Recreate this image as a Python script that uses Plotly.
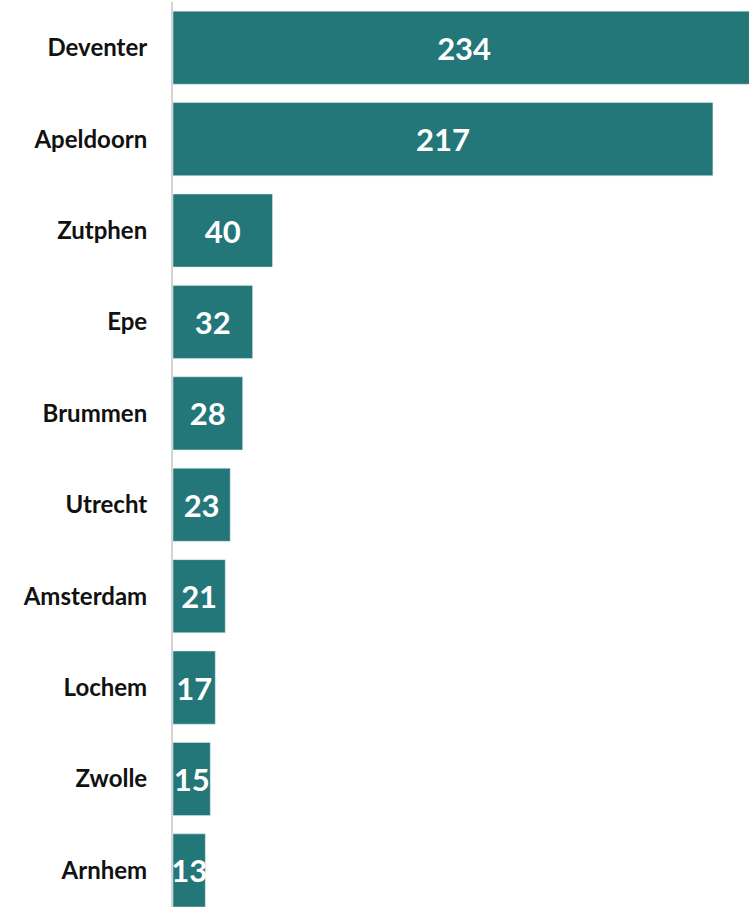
import plotly.graph_objects as go

cities = ["Deventer", "Apeldoorn", "Zutphen", "Epe", "Brummen",
          "Utrecht", "Amsterdam", "Lochem", "Zwolle", "Arnhem"]
counts = [234, 217, 40, 32, 28, 23, 21, 17, 15, 13]

bar_color = "#237779"

fig = go.Figure()
fig.add_trace(go.Bar(
    x=counts,
    y=cities,
    orientation="h",
    marker=dict(color=bar_color, line=dict(color="#E5ECF6", width=0.5)),
    text=[str(c) for c in counts],
    textposition="inside",
    insidetextanchor="middle",
    textangle=0,
    constraintext="none",
    textfont=dict(family="Lato", size=31, color="white", weight="bold"),
    cliponaxis=True,
))

fig.update_layout(
    width=749,
    height=907,
    margin=dict(l=173, r=0, t=2, b=0),
    paper_bgcolor="white",
    plot_bgcolor="white",
    bargap=0.2,
    showlegend=False,
    xaxis=dict(range=[0, 231.5], visible=False, fixedrange=True),
    yaxis=dict(
        categoryorder="array",
        categoryarray=cities,
        range=[9.4, -0.5],
        showline=True,
        linecolor="#d4d4d4",
        linewidth=2,
        showgrid=False,
        ticks="",
        ticklabelstandoff=19,
        tickfont=dict(family="Lato", size=24, color="#111111", weight="bold"),
    ),
)

# drop the page's default body margin so the figure sits at (0, 0)
fig.write_html(
    "out.html",
    config={"displayModeBar": False},
    post_script="document.body.style.margin='0';",
)
